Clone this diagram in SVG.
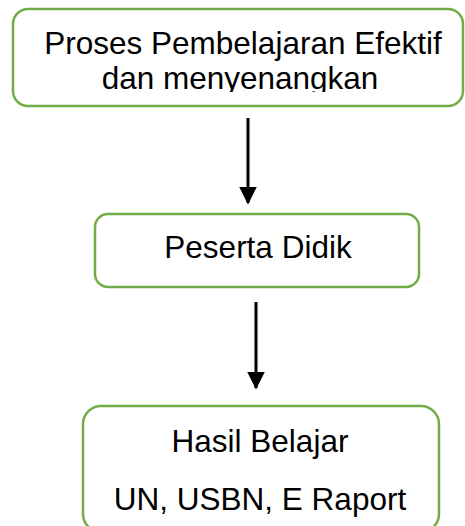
<svg xmlns="http://www.w3.org/2000/svg" width="465" height="526" viewBox="0 0 465 526">
<style>
.box{fill:#fff;stroke:#70AD47;stroke-width:2.5}
.t{font-family:"Liberation Sans",Arial,sans-serif;font-size:31.5px;fill:#000;text-anchor:middle}
.c{stroke:#000;stroke-width:3;fill:none}
</style>
<defs>
<marker id="ah" markerWidth="6" markerHeight="6" refX="5.5" refY="3" orient="auto" markerUnits="strokeWidth" viewBox="0 0 6 6">
<path d="M0,0 L6,3 L0,6 Z" fill="#000"/>
</marker>
<clipPath id="clip1"><rect x="0" y="0" width="465" height="92"/></clipPath>
</defs>
<g id="node1">
<rect class="box" x="13" y="9" width="450" height="97" rx="15"/>
<g clip-path="url(#clip1)">
<text class="t" x="243" y="54">Proses Pembelajaran Efektif</text>
<text class="t" x="240" y="89">dan menyenangkan</text>
</g>
</g>
<g id="node2">
<rect class="box" x="95" y="214" width="324" height="73" rx="13"/>
<text class="t" x="258" y="258">Peserta Didik</text>
</g>
<g id="node3">
<rect class="box" x="83" y="406" width="356" height="126" rx="18"/>
<text class="t" x="260" y="452">Hasil Belajar</text>
<text class="t" x="260" y="510">UN, USBN, E Raport</text>
</g>
<g id="connectors">
<line class="c" x1="248" y1="118" x2="248" y2="203" marker-end="url(#ah)"/>
<line class="c" x1="256" y1="302" x2="256" y2="388" marker-end="url(#ah)"/>
</g>
</svg>
